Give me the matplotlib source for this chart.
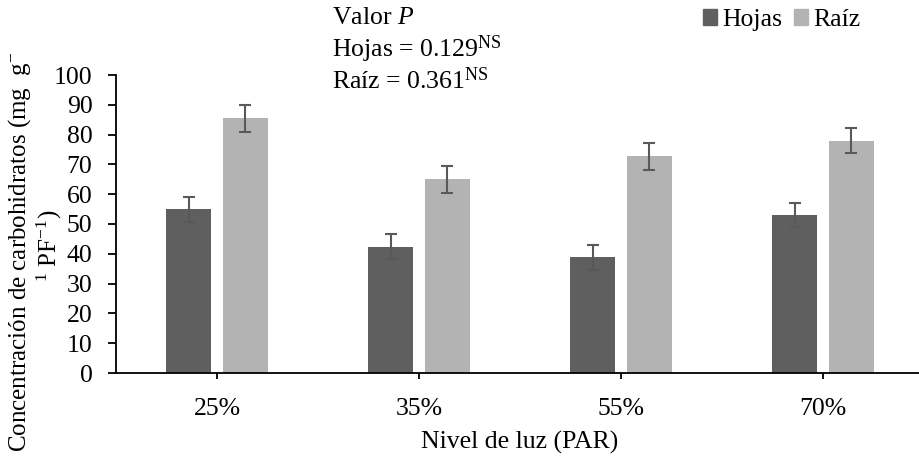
import numpy as np
import matplotlib
matplotlib.use("Agg")
import matplotlib.pyplot as plt
from matplotlib.patches import Patch

plt.rcParams['font.family'] = ['Liberation Serif', 'DejaVu Serif']
plt.rcParams['mathtext.fontset'] = 'custom'
plt.rcParams['mathtext.rm'] = 'Liberation Serif'
plt.rcParams['mathtext.it'] = 'Liberation Serif:italic'

# data
niveles = ['25%', '35%', '55%', '70%']
hojas = [55.0, 42.3, 38.9, 52.9]
hojas_err = [4.2, 4.2, 4.2, 4.0]
raiz = [85.5, 65.0, 72.7, 78.0]
raiz_err = [4.6, 4.5, 4.5, 4.3]

c_hojas = '#5f5f5f'
c_raiz = '#b3b3b3'
c_err = '#595959'
fs = 18.5

fig = plt.figure(figsize=(9.19, 4.63), dpi=100)
ax = fig.add_axes([116/919, 90/463, 808/919, 298/463])

x = np.arange(len(niveles))
w = 0.223
off = 0.141
err_kw = dict(ecolor=c_err, elinewidth=1.5, capsize=4.5, capthick=1.5)
ax.bar(x - off, hojas, w, yerr=hojas_err, color=c_hojas, error_kw=err_kw)
ax.bar(x + off, raiz, w, yerr=raiz_err, color=c_raiz, error_kw=err_kw)

ax.set_xlim(-0.5, 3.5)
ax.set_ylim(0, 100)
ax.set_yticks(range(0, 101, 10))
ax.set_xticks(x)
ax.set_xticklabels(niveles)
ax.spines['top'].set_visible(False)
ax.spines['right'].set_visible(False)
ax.spines['left'].set_linewidth(1.3)
ax.spines['bottom'].set_linewidth(1.3)
ax.tick_params(axis='y', length=6, width=1.3, pad=11, labelsize=fs)
ax.tick_params(axis='x', length=4, width=1.3, pad=14, labelsize=fs)

ax.set_xlabel('Nivel de luz (PAR)', fontsize=fs, labelpad=8)

# y label broken over two lines, as in the original
fig.text(20/919, 1 - 252/463, 'Concentración de carbohidratos (mg  g$^{-}$', rotation=90,
         ha='center', va='center', fontsize=18)
fig.text(49/919, 1 - 246/463, '$^{1}$ PF$^{-1}$)', rotation=90,
         ha='center', va='center', fontsize=18)

fig.text(332/919, 1 - 18/463, 'Valor $\\it{P}$', fontsize=fs, va='center')
fig.text(332/919, 1 - 49/463, 'Hojas = 0.129$^{\\rm NS}$', fontsize=fs, va='center')
fig.text(332/919, 1 - 81/463, 'Raíz = 0.361$^{\\rm NS}$', fontsize=fs, va='center')

handles = [Patch(color=c_hojas, label='Hojas'), Patch(color=c_raiz, label='Raíz')]
fig.legend(handles=handles, loc='center left', bbox_to_anchor=(703/919, 1 - 20/463),
           ncol=2, frameon=False, fontsize=fs, handlelength=0.55, handleheight=0.55,
           handletextpad=0.2, columnspacing=0.45, borderpad=0, borderaxespad=0)

fig.savefig('out.png', dpi=100)
